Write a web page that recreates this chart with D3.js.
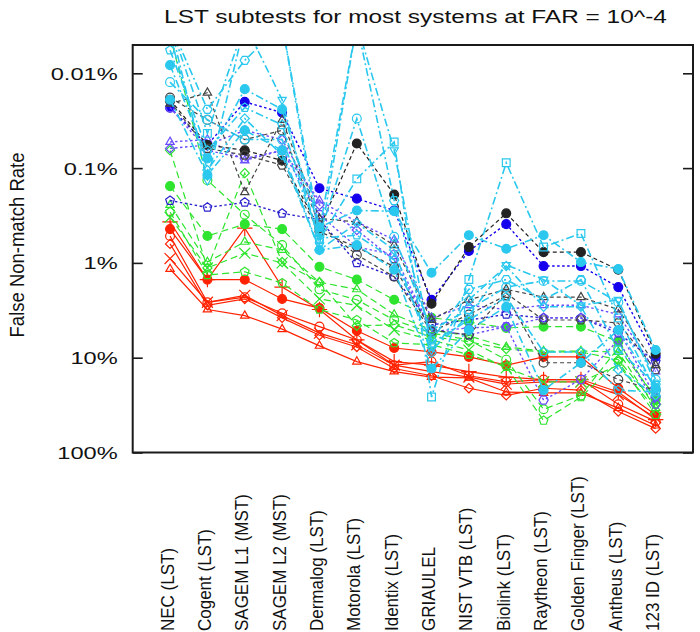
<!DOCTYPE html>
<html><head><meta charset="utf-8">
<script src="https://cdn.jsdelivr.net/npm/d3@7"></script>
<style>
body{margin:0;background:#fff}
svg{display:block}
text{font-family:"Liberation Sans",Arial,Helvetica,sans-serif;fill:#111}
</style>
</head><body>
<svg id="chart" width="700" height="632"></svg>
<script>
// ---------- DATA ----------
const categories = ["NEC (LST)","Cogent (LST)","SAGEM L1 (MST)","SAGEM L2 (MST)","Dermalog (LST)","Motorola (LST)","Identix (LST)","GRIAULEL","NIST VTB (LST)","Biolink (LST)","Raytheon (LST)","Golden Finger (LST)","Antheus (LST)","123 ID (LST)"];
const categoryLabels = ["NEC (LST)","Cogent (LST)","SAGEM L1 (MST)","SAGEM L2 (MST)","Dermalog (LST)","Motorola (LST)","Identix (LST)","GRIAULEL","NIST VTB (LST)","Biolink (LST)","Raytheon (LST)","Golden Finger (LST)","Antheus (LST)","123 ID (LST)"];
const yTickValues = [0.01, 0.1, 1, 10, 100];
const yTickLabels = ["0.01%", "0.1%", "1%", "10%", "100%"];
const titleText = "LST subtests for most systems at FAR = 10^-4";
const yAxisTitle = "False Non-match Rate";

// False non-match rate, in percent
const redFilled   = [0.44, 1.5, 1.5, 2.4, 3.0, 5.2, 7.9, 8.7, 9.8, 12, 9.8, 9.8, 21, 40];
const redPlus     = [0.37, 1.5, 0.43, 1.8, 3.1, 6.5, 11, 12, 14, 16, 17, 17, 23, 45];
const redCircle   = [0.52, 2.6, 2.3, 3.4, 4.7, 6.5, 12, 11, 15.5, 18, 17, 17, 31, 47];
const redDiamond  = [0.63, 2.8, 2.4, 3.8, 5.8, 7.7, 13, 15.5, 21, 25, 21, 22, 37, 56];
const redCross    = [0.9, 2.6, 2.2, 3.6, 5.5, 7.3, 12, 14, 16, 19, 18, 18, 24.5, 43];
const redTriangle = [1.16, 3.1, 3.6, 5.0, 7.5, 11, 14, 16, 16.3, 23, 23.5, 23.5, 34, 52];

const greenFilled   = [0.155, 0.52, 0.39, 0.44, 1.1, 1.5, 2.45, 3.8, 4.2, 4.85, 4.7, 4.7, 6.8, 28];
const greenDiamond  = [0.065, 1.13, 0.113, 0.98, 1.6, 4.6, 4.5, 6.0, 6.8, 8.1, 8.7, 8.7, 10.5, 31];
const greenCross    = [0.33, 1.13, 0.79, 1.0, 2.4, 2.8, 5.1, 6.5, 8.3, 12.8, 18, 18, 12, 35];
const greenTriangle = [0.245, 0.98, 0.6, 0.73, 1.6, 1.9, 3.5, 5.1, 5.9, 7.7, 8.5, 8.5, 8.7, 34];
const greenPentagon = [0.29, 1.34, 1.24, 1.63, 3.1, 4.0, 7.0, 7.3, 9.3, 12.4, 46, 26, 11, 40];
const greenCircle   = [0.004, 0.134, 0.31, 0.65, 1.9, 2.45, 4.0, 5.5, 6.5, 10.5, 35, 25, 7.9, 26];

const blueFilled    = [0.023, 0.057, 0.020, 0.026, 0.163, 0.21, 0.28, 2.45, 0.75, 0.39, 1.08, 1.08, 1.8, 9.8];
const blueTriangle  = [0.053, 0.05, 0.083, 0.065, 0.22, 0.37, 0.57, 3.8, 2.8, 3.1, 2.8, 2.8, 3.5, 14];
const bluePentagon  = [0.22, 0.26, 0.23, 0.30, 0.35, 1.0, 1.4, 4.5, 4.0, 3.5, 3.8, 3.8, 5.5, 11];
const blueHexagon   = [0.023, 0.065, 0.079, 0.065, 0.31, 0.68, 0.82, 5.1, 5.75, 4.7, 28, 17, 6.5, 31];
const blueDiamond   = [0.062, 0.057, 0.040, 0.050, 0.245, 0.45, 0.93, 5.3, 4.85, 4.7, 3.8, 3.8, 5.1, 26];

const blackFilled   = [0.019, 0.057, 0.065, 0.083, 0.43, 0.055, 0.19, 2.7, 0.68, 0.30, 0.77, 0.77, 1.18, 9.1];
const blackTriangle = [0.021, 0.016, 0.18, 0.031, 0.34, 0.37, 0.65, 4.0, 2.45, 1.9, 2.3, 2.3, 3.1, 12];
const blackHexagon  = [0.020, 0.062, 0.073, 0.093, 0.47, 0.68, 1.1, 5.1, 5.75, 2.1, 4.0, 4.0, 4.3, 13.4];
const blackCircle   = [0.018, 0.031, 0.050, 0.040, 0.40, 0.82, 1.4, 5.3, 3.5, 2.2, 11.3, 11.3, 17, 22];

const cyanFilled    = [0.0082, 0.079, 0.0147, 0.024, 0.42, 0.28, 0.285, 1.27, 0.51, 0.71, 0.51, 0.98, 1.16, 8.3];
const cyanCircle    = [0.0124, 0.031, 0.050, 0.050, 0.51, 0.030, 0.53, 5.1, 3.1, 1.8, 1.55, 1.55, 2.6, 17];
const cyanSquare    = [0.003, 0.043, 0.003, 0.003, 0.57, 0.13, 0.053, 26, 1.5, 0.088, 0.68, 0.49, 3.8, 22];
const cyanTriDown   = [0.003, 0.134, 0.003, 0.019, 0.65, 0.003, 0.065, 8.3, 3.6, 1.05, 1.5, 2.8, 2.45, 19];
const cyanDiamond   = [0.004, 0.105, 0.030, 0.073, 0.73, 0.38, 0.73, 8.9, 2.45, 1.08, 2.9, 2.9, 13.4, 25];
const cyanPentagon  = [0.0057, 0.065, 0.023, 0.035, 0.55, 0.51, 0.93, 7.0, 4.0, 2.3, 8.7, 8.7, 22, 23];
const cyanSmall     = [0.019, 0.118, 0.040, 0.065, 0.73, 0.65, 1.18, 13, 5.1, 2.9, 22, 11.3, 5.1, 21];
const cyanHexagon   = [0.003, 0.024, 0.0073, 0.003, 0.45, 0.003, 0.22, 6.5, 1.9, 1.5, 2.45, 1.5, 8.3, 19];

// ---------- STYLE ----------
const lineStyles = {
  red:   {dash: null,        width: 1.2},
  green: {dash: "7,4",       width: 1.2},
  blue:  {dash: "2.5,2.5",   width: 1.4},
  black: {dash: "4,3",       width: 1.2},
  cyan:  {dash: "8,3,2,3",   width: 1.6}
};
const C = {red:"#ff2200", green:"#2ee42e", blue:"#1500ee", purple:"#6a4cff", black:"#222222", gray:"#444444", cyan:"#2ac8ee"};

const seriesList = [
  {values: redFilled,   group:"red", color:C.red, marker:"circle", filled:true},
  {values: redPlus,     group:"red", color:C.red, marker:"plus"},
  {values: redCircle,   group:"red", color:C.red, marker:"circle"},
  {values: redDiamond,  group:"red", color:C.red, marker:"diamond"},
  {values: redCross,    group:"red", color:C.red, marker:"times"},
  {values: redTriangle, group:"red", color:C.red, marker:"triangle"},
  {values: greenFilled,   group:"green", color:C.green, marker:"circle", filled:true},
  {values: greenDiamond,  group:"green", color:C.green, marker:"diamond"},
  {values: greenCross,    group:"green", color:C.green, marker:"times"},
  {values: greenTriangle, group:"green", color:C.green, marker:"triangle"},
  {values: greenPentagon, group:"green", color:C.green, marker:"pentagon"},
  {values: greenCircle,   group:"green", color:C.green, marker:"circle"},
  {values: blueFilled,   group:"blue", color:C.blue,   marker:"circle", filled:true},
  {values: blueTriangle, group:"blue", color:C.purple, marker:"triangle"},
  {values: bluePentagon, group:"blue", color:"#2a22cc", marker:"pentagon"},
  {values: blueHexagon,  group:"blue", color:C.purple, marker:"hexagon"},
  {values: blueDiamond,  group:"blue", color:C.purple, marker:"diamond"},
  {values: blackFilled,   group:"black", color:C.black, marker:"circle", filled:true},
  {values: blackTriangle, group:"black", color:C.gray,  marker:"triangle"},
  {values: blackHexagon,  group:"black", color:C.gray,  marker:"hexagon"},
  {values: blackCircle,   group:"black", color:C.gray,  marker:"circle"},
  {values: cyanFilled,   group:"cyan", color:C.cyan, marker:"circle", filled:true},
  {values: cyanCircle,   group:"cyan", color:C.cyan, marker:"circle"},
  {values: cyanSquare,   group:"cyan", color:C.cyan, marker:"square"},
  {values: cyanTriDown,  group:"cyan", color:C.cyan, marker:"triangleDown"},
  {values: cyanDiamond,  group:"cyan", color:C.cyan, marker:"diamond"},
  {values: cyanPentagon, group:"cyan", color:C.cyan, marker:"pentagon"},
  {values: cyanSmall,    group:"cyan", color:C.cyan, marker:"circle", filled:true},
  {values: cyanHexagon,  group:"cyan", color:C.cyan, marker:"hexagon"}
];

// ---------- LAYOUT ----------
const frame = {left: 132.7, right: 693, top: 45, bottom: 452.5};
const svg = d3.select("#chart");

const x = d3.scalePoint().domain(categories).range([frame.left, frame.right]).padding(1);
const y = d3.scaleLog().domain([0.01, 100]).range([73.3, 452.5]);

// custom polygon symbols
function polygon(n, rot) {
  return {draw(ctx, size) {
    const r = Math.sqrt(size) * 0.62;
    for (let i = 0; i < n; i++) {
      const a = rot + i * 2 * Math.PI / n;
      const px = r * Math.cos(a), py = r * Math.sin(a);
      if (i === 0) ctx.moveTo(px, py); else ctx.lineTo(px, py);
    }
    ctx.closePath();
  }};
}
const symbolTypes = {
  circle: d3.symbolCircle,
  plus: d3.symbolPlus,
  times: d3.symbolTimes,
  diamond: polygon(4, -Math.PI/2),
  square: d3.symbolSquare,
  triangle: polygon(3, -Math.PI/2),
  triangleDown: polygon(3, Math.PI/2),
  pentagon: polygon(5, -Math.PI/2),
  hexagon: polygon(6, 0)
};
const symbolSizes = {circle: 62, plus: 80, times: 80, diamond: 55, square: 60, triangle: 60, triangleDown: 60, pentagon: 55, hexagon: 55};

svg.append("defs").append("clipPath").attr("id","plotClip")
  .append("rect").attr("x", frame.left).attr("y", frame.top)
  .attr("width", frame.right - frame.left).attr("height", frame.bottom - frame.top);

const plot = svg.append("g").attr("clip-path", "url(#plotClip)");
const line = d3.line().x((d, i) => x(categories[i])).y(d => y(d));

seriesList.forEach(s => {
  const st = lineStyles[s.group];
  const g = plot.append("g");
  g.append("path").datum(s.values)
    .attr("d", line)
    .attr("fill", "none")
    .attr("stroke", s.color)
    .attr("stroke-width", st.width)
    .attr("stroke-dasharray", st.dash);
  const sym = d3.symbol().type(symbolTypes[s.marker]).size(symbolSizes[s.marker]);
  g.selectAll("path.m").data(s.values).join("path")
    .attr("class", "m")
    .attr("transform", (d, i) => `translate(${x(categories[i])},${y(d)})`)
    .attr("d", sym)
    .attr("fill", s.filled ? s.color : "none")
    .attr("stroke", s.color)
    .attr("stroke-width", 1.2);
});

// frame
svg.append("rect")
  .attr("x", frame.left).attr("y", frame.top)
  .attr("width", frame.right - frame.left).attr("height", frame.bottom - frame.top)
  .attr("fill", "none").attr("stroke", "#1a1a1a").attr("stroke-width", 2);

// left axis with inward ticks
const yAxisL = svg.append("g").attr("transform", `translate(${frame.left},0)`)
  .call(d3.axisLeft(y).tickValues(yTickValues).tickSize(-10).tickPadding(0)
    .tickFormat((d, i) => yTickLabels[i]));
yAxisL.select(".domain").remove();
yAxisL.selectAll(".tick line").attr("stroke", "#1a1a1a").attr("stroke-width", 1.6);
yAxisL.selectAll(".tick text")
  .attr("x", null).attr("dy", null)
  .attr("text-anchor", "end")
  .attr("transform", "translate(-15,6) scale(1.45,1)")
  .style("font-size", "16.3px")
  .style("font-family", "'Liberation Sans', Arial, sans-serif")
  .attr("fill", "#111");

// right axis ticks
const yAxisR = svg.append("g").attr("transform", `translate(${frame.right},0)`)
  .call(d3.axisRight(y).tickValues(yTickValues).tickSize(-10).tickFormat(""));
yAxisR.select(".domain").remove();
yAxisR.selectAll(".tick line").attr("stroke", "#1a1a1a").attr("stroke-width", 1.6);

// title
svg.append("text")
  .attr("transform", "translate(415.5,23) scale(1.32,1)")
  .attr("text-anchor", "middle")
  .style("font-size", "18.5px")
  .text(titleText);

// y axis title
svg.append("text")
  .attr("transform", "translate(24,245) rotate(-90) scale(1,1.13)")
  .attr("text-anchor", "middle")
  .style("font-size", "18.5px")
  .text(yAxisTitle);

// x category labels
svg.append("g").selectAll("text").data(categories).join("text")
  .attr("transform", d => `translate(${x(d) + 3.5},631) rotate(-90) scale(1,1.09)`)
  .attr("text-anchor", "start")
  .style("font-size", "17px")
  .text((d, i) => categoryLabels[i]);
</script>
</body></html>
